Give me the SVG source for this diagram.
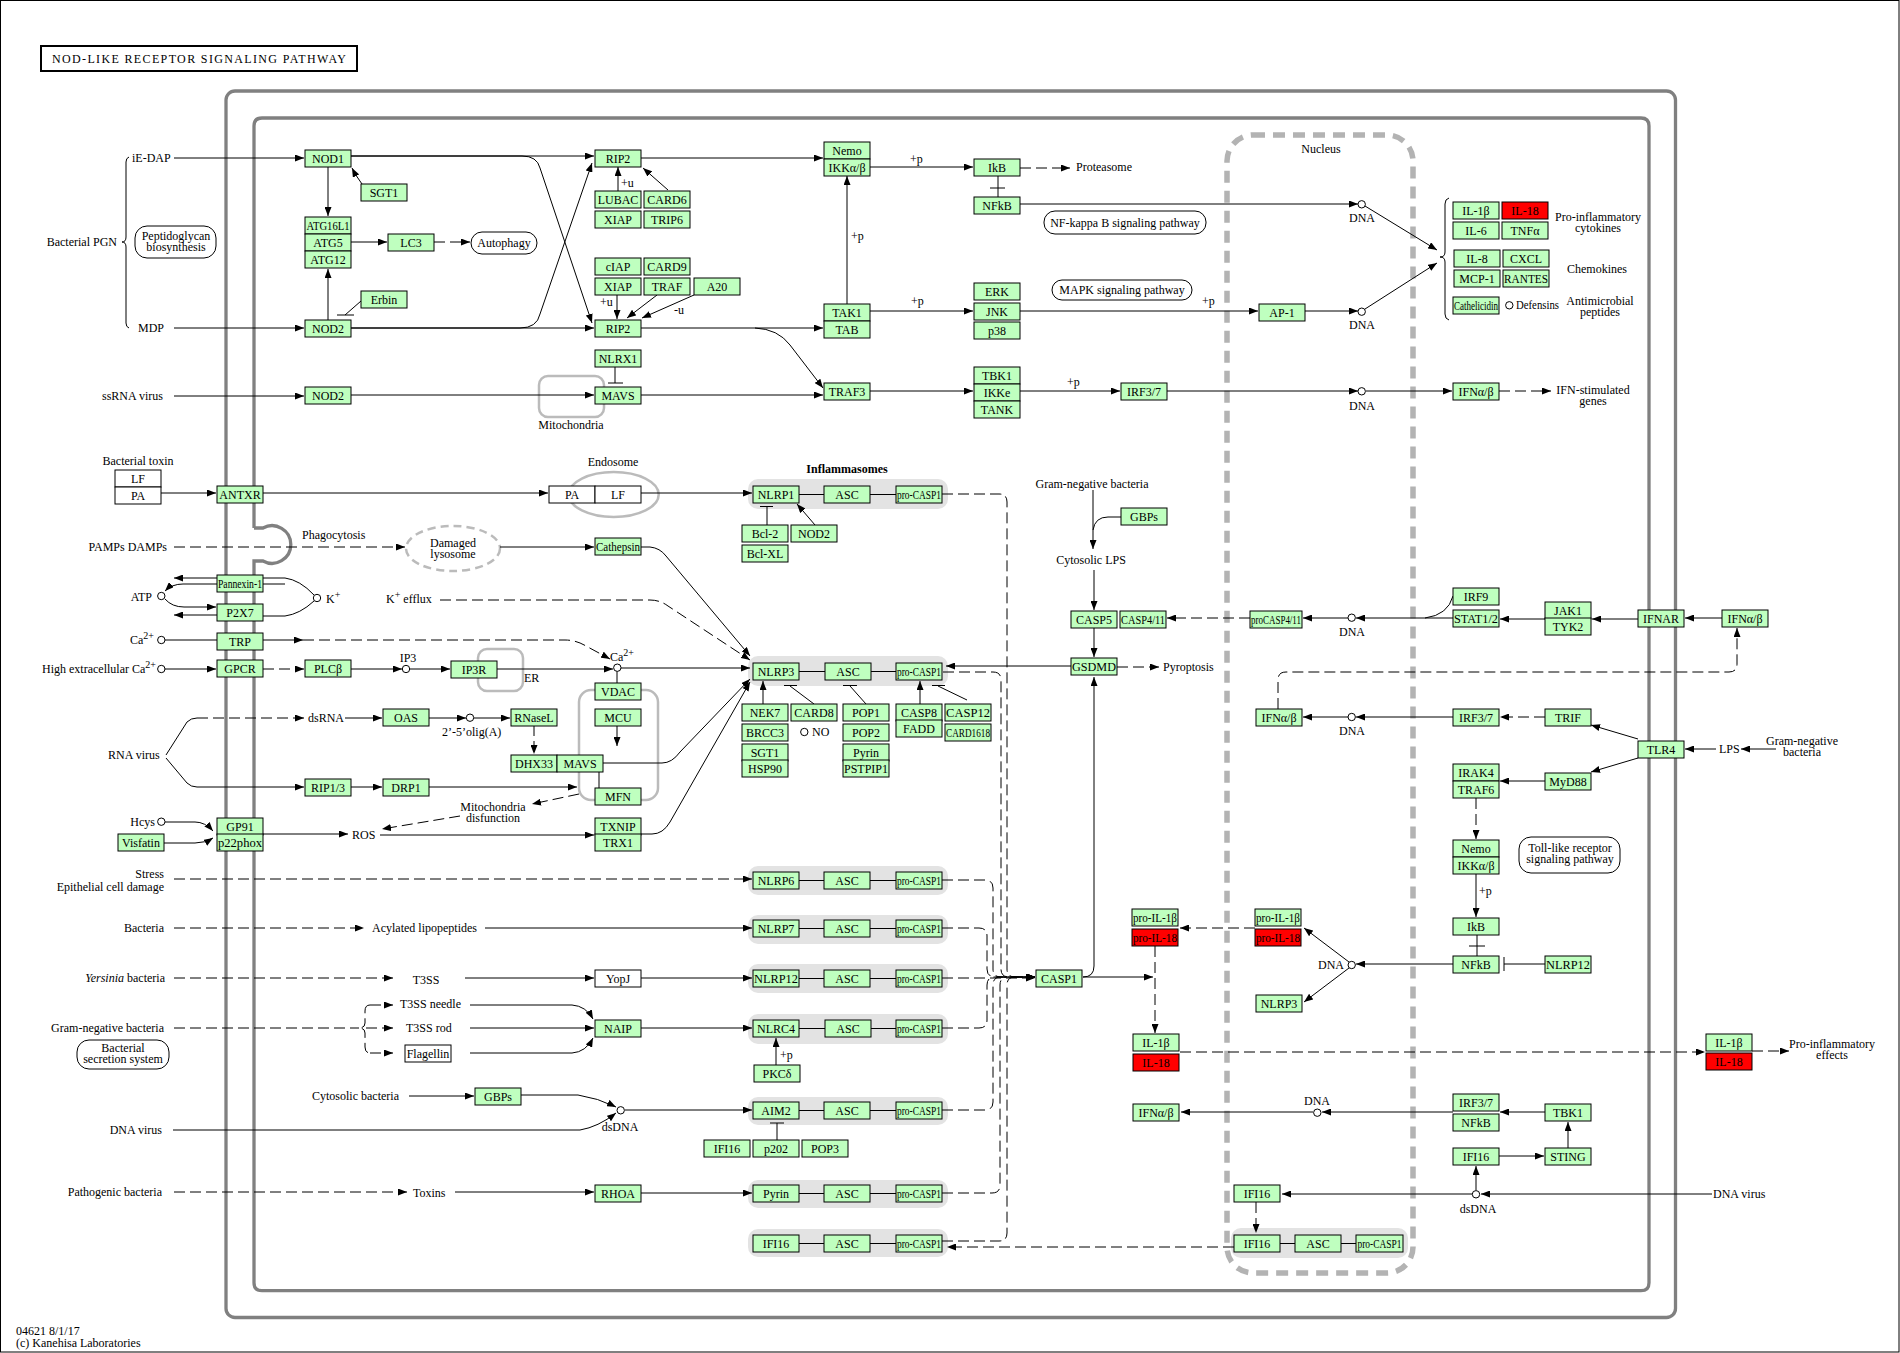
<svg xmlns="http://www.w3.org/2000/svg" width="1900" height="1353" viewBox="0 0 1900 1353">
<style>
text{font-family:"Liberation Serif","Times New Roman",serif;font-size:12px;fill:#000}
.n rect{fill:#bfffbf;stroke:#000;stroke-width:1}
.n text{text-anchor:middle}
.w rect{fill:#fff}
.r rect{fill:#ff0000}
.m{text-anchor:middle}
.s{text-anchor:start}
.en{text-anchor:end}
#edges path{fill:none;stroke:#000;stroke-width:1}
#edges .ar{marker-end:url(#a)}
#edges .d{stroke-dasharray:11 5}
.mem{fill:none;stroke:#808080;stroke-width:3.3}
.cmp{fill:none;stroke:#bbbbbb;stroke-width:2.5}
.bg{fill:#e3e3e3;stroke:none}
.pw{fill:#fff;stroke:#000;stroke-width:1}
.c{fill:#fff;stroke:#000;stroke-width:1}
</style>
<defs>
<marker id="a" markerWidth="9" markerHeight="7" refX="9" refY="3.5" orient="auto" markerUnits="userSpaceOnUse"><path d="M0,0L9,3.5L0,7z" fill="#000"/></marker>
</defs>
<rect x="0.5" y="0.5" width="1898.5" height="1351.5" fill="#fff" stroke="#000" stroke-width="1"/>
<g id="title"><rect x="41" y="46" width="316" height="25" fill="#fff" stroke="#000" stroke-width="2"/><text x="52" y="63" font-size="12.5" textLength="294" lengthAdjust="spacing">NOD-LIKE  RECEPTOR  SIGNALING  PATHWAY</text></g>

<g id="membranes">
<rect class="mem" x="226" y="91" width="1449.5" height="1226.5" rx="9"/>
<path class="mem" d="M254,528 V126 Q254,118 262,118 H1641 Q1649,118 1649,126 V1282.7 Q1649,1290.7 1641,1290.7 H262 Q254,1290.7 254,1282.7 V561 H263 A18.8,18.8 0 1 0 263,528 H254"/>
<rect x="1227" y="135" width="186" height="1138" rx="26" fill="none" stroke="#b3b3b3" stroke-width="5.5" stroke-dasharray="12 8"/>
<rect class="cmp" x="539" y="376" width="65" height="41" rx="9"/>
<rect class="cmp" x="478" y="649" width="45" height="42" rx="9"/>
<rect class="cmp" x="579" y="690" width="79" height="110" rx="12"/>
<ellipse class="cmp" cx="613.7" cy="494.5" rx="45" ry="22.5"/>
<ellipse class="cmp" cx="453" cy="548.5" rx="47" ry="22.5" stroke-dasharray="8 5"/>
<rect class="bg" x="748" y="479" width="200" height="30" rx="10"/>
<rect class="bg" x="748" y="656" width="200" height="30" rx="10"/>
<rect class="bg" x="748" y="866" width="200" height="29" rx="10"/>
<rect class="bg" x="748" y="915" width="200" height="29" rx="10"/>
<rect class="bg" x="748" y="964" width="200" height="29" rx="10"/>
<rect class="bg" x="748" y="1014" width="200" height="30" rx="10"/>
<rect class="bg" x="748" y="1097" width="200" height="28" rx="10"/>
<rect class="bg" x="748" y="1180" width="200" height="28" rx="10"/>
<rect class="bg" x="748" y="1229" width="200" height="28" rx="10"/>
<rect class="bg" x="1231" y="1228" width="177" height="30" rx="10"/>
</g>

<g id="edges">
<path class="ar" d="M174,158 H304"/>
<path class="ar" d="M174,328 H304"/>
<path class="ar" d="M174,396 H304"/>
<path class="ar" d="M328,167 V216"/>
<path class="ar" d="M328,320 V269"/>
<path class="ar" d="M362,184 Q356,176 352,168"/>
<path d="M361,301 L345,315 M337,315 H354"/>
<path class="ar" d="M351,242 H387"/>
<path class="ar d" d="M434,242 H470"/>
<path class="ar" d="M351,156 H594"/>
<path class="ar" d="M351,156 H522 Q537,156 540,168 L592,323"/>
<path class="ar" d="M351,328 H594"/>
<path class="ar" d="M351,328 H520 Q537,328 540,314 L592,163"/>
<path class="ar" d="M618,191 V167"/>
<path class="ar" d="M668,190 L643,168"/>
<path class="ar" d="M617,295 V319"/>
<path class="ar" d="M657,295 L627,318"/>
<path class="ar" d="M694,295 L642,318"/>
<path class="ar" d="M641,158 H823"/>
<path class="ar" d="M641,328 H823"/>
<path class="ar" d="M755,328 Q778,329 790,345 L823,388"/>
<path d="M615,367 V383 M608,383 H623"/>
<path class="ar" d="M351,395 H594"/>
<path class="ar" d="M641,395 H823"/>
<path class="ar" d="M847,304 V176"/>
<path class="ar" d="M870,167 H973"/>
<path class="ar d" d="M1020,168 H1070"/>
<path d="M998,176 V197 M990,188 H1005"/>
<path class="ar" d="M1020,204 H1358"/>
<path class="ar" d="M1365,206 L1437,250"/>
<path class="ar" d="M870,311 H973"/>
<path class="ar" d="M1020,311 H1258"/>
<path class="ar" d="M1305,311 H1358"/>
<path class="ar" d="M1365,309 L1437,263"/>
<path class="ar" d="M870,391 H973"/>
<path class="ar" d="M1020,391 H1120"/>
<path class="ar" d="M1167,391 H1358"/>
<path class="ar" d="M1366,391 H1452"/>
<path class="ar d" d="M1499,391 H1551"/>

<path class="ar" d="M161,493 H216"/>
<path class="ar" d="M263,493 H548"/>
<path class="ar" d="M641,493 H752"/>
<path class="ar d" d="M174,547 H405"/>
<path class="ar" d="M500,547 H594"/>
<path class="ar" d="M641,547 H650 Q660,548 666,556 L750,656"/>
<path class="ar d" d="M440,600 H650 Q660,600 668,606 L750,660"/>
<path d="M165,640 H217"/>
<path class="ar" d="M263,640 H303"/>
<path class="ar d" d="M303,640 H565 Q576,640 586,646 L610,659"/>
<path class="ar" d="M165,669 H216"/>
<path class="ar d" d="M263,669 H304"/>
<path class="ar" d="M351,669 H402"/>
<path class="ar" d="M410,669 H450"/>
<path class="ar" d="M497,669 H613"/>
<path class="ar" d="M621,668 H750"/>
<path d="M617,671 V683"/>
<path class="ar" d="M617,725 V746"/>
<path class="ar" d="M217,578 H174"/>
<path class="ar" d="M217,584 H183 Q172,584 165,591"/>
<path class="ar" d="M165,599 Q172,607 184,607 H216"/>
<path class="ar" d="M217,615 H174"/>
<path d="M263,578 H285 Q300,580 314,595 M263,584 H285 M263,616 H285 Q300,614 314,601"/>
<path d="M166,755 L187,722 Q191,718 197,718"/>
<path class="ar d" d="M197,718 H304"/>
<path class="ar" d="M166,758 L187,783 Q191,787 197,787 H304"/>
<path class="ar" d="M345,718 H382"/>
<path class="ar" d="M429,718 H466"/>
<path class="ar" d="M474,718 H510"/>
<path class="ar d" d="M534,725 V754"/>
<path class="ar" d="M351,787 H382"/>
<path class="ar" d="M429,787 H577"/>
<path class="ar" d="M603,763 H662 Q672,763 680,752 L750,679"/>
<path d="M599,772 V788"/>
<path class="ar d" d="M579,794 L532,804"/>
<path class="ar d" d="M460,816 L382,829"/>
<path class="ar" d="M165,822 H195 Q205,822 213,831"/>
<path class="ar" d="M164,843 H195 Q205,843 213,838"/>
<path class="ar" d="M263,834 H348"/>
<path class="ar" d="M380,835 H594"/>
<path class="ar" d="M641,834 H652 Q663,834 670,822 L750,682"/>
<path class="ar d" d="M174,879 H752"/>

<path class="ar d" d="M174,928 H364"/>
<path class="ar" d="M485,928 H752"/>
<path class="ar d" d="M174,978 H393"/>
<path class="ar" d="M465,978 H594"/>
<path class="ar" d="M641,978 H752"/>
<path class="d" d="M174,1028 H359"/>
<path class="d" d="M370,1005 Q365,1005 365,1011 V1023 Q365,1028 359,1028 Q365,1028 365,1033 V1047 Q365,1053 370,1053"/>
<path class="ar d" d="M370,1005 H393"/>
<path class="ar d" d="M366,1028 H393"/>
<path class="ar d" d="M370,1053 H393"/>
<path class="ar" d="M470,1005 H572 Q586,1006 593,1019"/>
<path class="ar" d="M470,1028 H594"/>
<path class="ar" d="M470,1053 H572 Q586,1052 593,1038"/>
<path class="ar" d="M641,1028 H752"/>
<path class="ar" d="M776,1065 V1038"/>
<path class="ar" d="M409,1096 H474"/>
<path class="ar" d="M521,1095 H578 Q598,1098 616,1107"/>
<path class="ar" d="M173,1130 H580 Q598,1127 616,1113"/>
<path class="ar" d="M625,1110 H752"/>
<path d="M777,1140 V1123 M770,1123 H784"/>
<path class="ar d" d="M174,1192 H407"/>
<path class="ar" d="M455,1192 H594"/>
<path class="ar" d="M641,1193 H752"/>

<path d="M799,494.5 H824 M870,494.5 H896"/>
<path d="M799,671.5 H825 M871,671.5 H896"/>
<path d="M799,880.5 H824 M870,880.5 H896"/>
<path d="M799,928.5 H824 M870,928.5 H896"/>
<path d="M799,978.5 H824 M870,978.5 H896"/>
<path d="M799,1028.5 H825 M871,1028.5 H896"/>
<path d="M799,1110.5 H824 M870,1110.5 H896"/>
<path d="M799,1193.5 H824 M870,1193.5 H896"/>
<path d="M799,1243.5 H824 M870,1243.5 H896"/>
<path d="M1280,1243.5 H1295 M1341,1243.5 H1356"/>

<path d="M767,525 V507 M760,506.5 H773"/>
<path class="ar" d="M815,525 L797,504"/>
<path class="ar" d="M763,704 V681"/>
<path d="M814,704 L790,686 M784,685.5 H797"/>
<path d="M866,704 L850,686 M843,685.5 H857"/>
<path class="ar" d="M920,704 V681"/>
<path d="M967,700 L938,686 M932,685.5 H945"/>
<path class="ar" d="M1071,666 H946"/>

<path class="ar d" d="M942,494 H999 Q1007,494 1007,502 V969 Q1007,977 1015,977 H1035"/>
<path class="ar d" d="M943,672 H993 Q1001,672 1001,680 V969 Q1001,977 1009,977 H1035"/>
<path class="ar d" d="M942,880 H985 Q993,880 993,888 V969 Q993,977 1001,977 H1035"/>
<path class="ar d" d="M942,928 H979 Q987,928 987,936 V969 Q987,977 995,977 H1035"/>
<path class="ar d" d="M942,978 H1035"/>
<path class="ar d" d="M942,1028 H979 Q987,1028 987,1020 V985 Q987,977 995,977 H1035"/>
<path class="ar d" d="M942,1110 H985 Q993,1110 993,1102 V985 Q993,977 1001,977 H1035"/>
<path class="ar d" d="M942,1193 H992 Q1000,1193 1000,1185 V985 Q1000,977 1008,977 H1035"/>
<path class="ar d" d="M942,1241 H999 Q1007,1241 1007,1233 V985 Q1007,977 1015,977 H1035"/>

<path class="ar" d="M1093,490 V549"/>
<path d="M1121,517 H1108 Q1095,517 1093,530"/>
<path class="ar" d="M1094,570 V610"/>
<path class="ar" d="M1094,627 V657"/>
<path class="ar d" d="M1117,667 H1159"/>
<path class="ar d" d="M1250,618 H1167"/>
<path class="ar" d="M1348,618 H1303"/>
<path class="ar" d="M1453,618 H1356"/>
<path d="M1453,596 Q1448,615 1425,618"/>
<path class="ar" d="M1545,619 H1500"/>
<path class="ar" d="M1638,619 H1592"/>
<path class="ar" d="M1722,618 H1685"/>
<path class="ar d" d="M1278,709 V680 Q1278,672 1286,672 H1729 Q1737,672 1737,664 V628"/>
<path class="ar" d="M1348,717 H1303"/>
<path class="ar" d="M1453,717 H1356"/>
<path class="ar d" d="M1545,717 H1500"/>
<path class="ar" d="M1638,739 L1591,725"/>
<path class="ar" d="M1638,758 L1591,772"/>
<path class="ar" d="M1716,749 H1685"/>
<path class="ar" d="M1776,749 H1741"/>
<path class="ar" d="M1545,781 H1500"/>
<path class="ar d" d="M1476,798 V839"/>
<path class="ar" d="M1476,874 V917"/>
<path d="M1477,935 V956 M1469,946 H1485"/>
<path d="M1545,964 H1504 M1504,957 V971"/>
<path class="ar" d="M1453,964 H1356"/>
<path class="ar" d="M1349,962 L1304,928"/>
<path class="ar" d="M1349,968 L1304,1002"/>
<path class="ar d" d="M1255,928 H1180"/>
<path class="ar d" d="M1155,946 V1033"/>
<path class="ar" d="M1083,977 H1153"/>
<path class="ar" d="M1083,977 Q1094,977 1094,966 V677"/>
<path class="ar d" d="M1180,1052 H1705"/>
<path class="ar d" d="M1752,1051 H1789"/>
<path class="ar" d="M1313,1112 H1181"/>
<path class="ar" d="M1453,1112 H1322"/>
<path class="ar" d="M1545,1112 H1500"/>
<path class="ar" d="M1499,1156 H1544"/>
<path class="ar" d="M1568,1148 V1122"/>
<path class="ar" d="M1712,1194 H1481"/>
<path class="ar" d="M1476,1190 V1166"/>
<path class="ar" d="M1472,1194 H1282"/>
<path class="ar d" d="M1256,1202 V1233"/>
<path class="ar d" d="M1234,1247 H947"/>
<path d="M129,157 Q126,158 126,162 V237 Q126,242 122,242 Q126,242 126,247 V323 Q126,327 129,328"/>
<path d="M1449,198 Q1445,199 1445,204 V252 Q1445,257 1440,257 Q1445,257 1445,262 V314 Q1445,319 1449,320"/>
</g>

<g id="points">
<circle class="c" cx="1361.7" cy="204.3" r="3.7"/>
<circle class="c" cx="1361.7" cy="311.7" r="3.7"/>
<circle class="c" cx="1361.7" cy="391.3" r="3.7"/>
<circle class="c" cx="1509.3" cy="305.3" r="3.7"/>
<circle class="c" cx="161.3" cy="596" r="3.7"/>
<circle class="c" cx="317" cy="598" r="3.7"/>
<circle class="c" cx="161.3" cy="640" r="3.7"/>
<circle class="c" cx="161.3" cy="669" r="3.7"/>
<circle class="c" cx="406" cy="669" r="3.7"/>
<circle class="c" cx="617.3" cy="667.7" r="3.7"/>
<circle class="c" cx="470" cy="717.7" r="3.7"/>
<circle class="c" cx="804.3" cy="732" r="3.7"/>
<circle class="c" cx="161.3" cy="821.7" r="3.7"/>
<circle class="c" cx="620.7" cy="1110.3" r="3.7"/>
<circle class="c" cx="1351.7" cy="617.7" r="3.7"/>
<circle class="c" cx="1351.7" cy="717" r="3.7"/>
<circle class="c" cx="1351.7" cy="965" r="3.7"/>
<circle class="c" cx="1317.3" cy="1112.7" r="3.7"/>
<circle class="c" cx="1476" cy="1194.3" r="3.7"/>
</g>

<g id="pathways">
<rect class="pw" x="135" y="226" width="81" height="32" rx="12"/>
<rect class="pw" x="471" y="232" width="66" height="22" rx="11"/>
<rect class="pw" x="1044" y="211" width="162" height="23" rx="11"/>
<rect class="pw" x="1052" y="280" width="140" height="20" rx="10"/>
<rect class="pw" x="1519" y="837" width="101" height="36" rx="12"/>
<rect class="pw" x="77" y="1040" width="92" height="29" rx="12"/>
</g>

<g id="nodes">
<g id="NOD1" class="n"><rect x="305" y="150" width="46" height="17"/><text x="328" y="163">NOD1</text></g>
<g id="SGT1a" class="n"><rect x="361" y="184" width="46" height="17"/><text x="384" y="197">SGT1</text></g>
<g id="ATG16L1" class="n"><rect x="305" y="217" width="46" height="17"/><text x="328" y="230" textLength="43" lengthAdjust="spacingAndGlyphs">ATG16L1</text></g>
<g id="ATG5" class="n"><rect x="305" y="234" width="46" height="17"/><text x="328" y="247">ATG5</text></g>
<g id="ATG12" class="n"><rect x="305" y="251" width="46" height="17"/><text x="328" y="264">ATG12</text></g>
<g id="LC3" class="n"><rect x="388" y="234" width="46" height="17"/><text x="411" y="247">LC3</text></g>
<g id="Erbin" class="n"><rect x="361" y="291" width="46" height="17"/><text x="384" y="304">Erbin</text></g>
<g id="NOD2a" class="n"><rect x="305" y="320" width="46" height="17"/><text x="328" y="333">NOD2</text></g>
<g id="NOD2b" class="n"><rect x="305" y="387" width="46" height="17"/><text x="328" y="400">NOD2</text></g>
<g id="RIP2a" class="n"><rect x="595" y="150" width="46" height="17"/><text x="618" y="163">RIP2</text></g>
<g id="LUBAC" class="n"><rect x="595" y="191" width="46" height="17"/><text x="618" y="204">LUBAC</text></g>
<g id="CARD6" class="n"><rect x="644" y="191" width="46" height="17"/><text x="667" y="204">CARD6</text></g>
<g id="XIAPa" class="n"><rect x="595" y="211" width="46" height="17"/><text x="618" y="224">XIAP</text></g>
<g id="TRIP6" class="n"><rect x="644" y="211" width="46" height="17"/><text x="667" y="224">TRIP6</text></g>
<g id="cIAP" class="n"><rect x="595" y="258" width="46" height="17"/><text x="618" y="271">cIAP</text></g>
<g id="CARD9" class="n"><rect x="644" y="258" width="46" height="17"/><text x="667" y="271">CARD9</text></g>
<g id="XIAPb" class="n"><rect x="595" y="278" width="46" height="17"/><text x="618" y="291">XIAP</text></g>
<g id="TRAF" class="n"><rect x="644" y="278" width="46" height="17"/><text x="667" y="291">TRAF</text></g>
<g id="A20" class="n"><rect x="694" y="278" width="46" height="17"/><text x="717" y="291">A20</text></g>
<g id="RIP2b" class="n"><rect x="595" y="320" width="46" height="17"/><text x="618" y="333">RIP2</text></g>
<g id="NLRX1" class="n"><rect x="595" y="350" width="46" height="17"/><text x="618" y="363">NLRX1</text></g>
<g id="MAVSa" class="n"><rect x="595" y="387" width="46" height="17"/><text x="618" y="400">MAVS</text></g>
<g id="NemoA" class="n"><rect x="824" y="142" width="46" height="17"/><text x="847" y="155">Nemo</text></g>
<g id="IKKa" class="n"><rect x="824" y="159" width="46" height="17"/><text x="847" y="172">IKKα/β</text></g>
<g id="TAK1" class="n"><rect x="824" y="304" width="46" height="17"/><text x="847" y="317">TAK1</text></g>
<g id="TAB" class="n"><rect x="824" y="321" width="46" height="17"/><text x="847" y="334">TAB</text></g>
<g id="TRAF3" class="n"><rect x="824" y="383" width="46" height="17"/><text x="847" y="396">TRAF3</text></g>
<g id="IkBa" class="n"><rect x="974" y="159" width="46" height="17"/><text x="997" y="172">IkB</text></g>
<g id="NFkBa" class="n"><rect x="974" y="197" width="46" height="17"/><text x="997" y="210">NFkB</text></g>
<g id="ERK" class="n"><rect x="974" y="283" width="46" height="17"/><text x="997" y="296">ERK</text></g>
<g id="JNK" class="n"><rect x="974" y="303" width="46" height="17"/><text x="997" y="316">JNK</text></g>
<g id="p38" class="n"><rect x="974" y="322" width="46" height="17"/><text x="997" y="335">p38</text></g>
<g id="TBK1a" class="n"><rect x="974" y="367" width="46" height="17"/><text x="997" y="380">TBK1</text></g>
<g id="IKKe" class="n"><rect x="974" y="384" width="46" height="17"/><text x="997" y="397">IKKe</text></g>
<g id="TANK" class="n"><rect x="974" y="401" width="46" height="17"/><text x="997" y="414">TANK</text></g>
<g id="IRF37a" class="n"><rect x="1121" y="383" width="46" height="17"/><text x="1144" y="396">IRF3/7</text></g>
<g id="AP1" class="n"><rect x="1259" y="304" width="46" height="17"/><text x="1282" y="317">AP-1</text></g>
<g id="IFNab1" class="n"><rect x="1453" y="383" width="46" height="17"/><text x="1476" y="396">IFNα/β</text></g>
<g id="IL1b1" class="n"><rect x="1453" y="202" width="46" height="17"/><text x="1476" y="215">IL-1β</text></g>
<g id="IL18a" class="n r"><rect x="1502" y="202" width="46" height="17"/><text x="1525" y="215">IL-18</text></g>
<g id="IL6" class="n"><rect x="1453" y="222" width="46" height="17"/><text x="1476" y="235">IL-6</text></g>
<g id="TNFa" class="n"><rect x="1502" y="222" width="46" height="17"/><text x="1525" y="235">TNFα</text></g>
<g id="IL8" class="n"><rect x="1454" y="250" width="46" height="17"/><text x="1477" y="263">IL-8</text></g>
<g id="CXCL" class="n"><rect x="1503" y="250" width="46" height="17"/><text x="1526" y="263">CXCL</text></g>
<g id="MCP1" class="n"><rect x="1454" y="270" width="46" height="17"/><text x="1477" y="283">MCP-1</text></g>
<g id="RANTES" class="n"><rect x="1503" y="270" width="46" height="17"/><text x="1526" y="283" textLength="44" lengthAdjust="spacingAndGlyphs">RANTES</text></g>
<g id="Cathelicidin" class="n"><rect x="1453" y="297" width="46" height="17"/><text x="1476" y="310" textLength="44" lengthAdjust="spacingAndGlyphs">Cathelicidin</text></g>

<g id="LF1" class="n w"><rect x="115" y="470" width="46" height="17"/><text x="138" y="483">LF</text></g>
<g id="PA1" class="n w"><rect x="115" y="487" width="46" height="17"/><text x="138" y="500">PA</text></g>
<g id="ANTXR" class="n"><rect x="217" y="486" width="46" height="17"/><text x="240" y="499">ANTXR</text></g>
<g id="PA2" class="n w"><rect x="549" y="486" width="46" height="17"/><text x="572" y="499">PA</text></g>
<g id="LF2" class="n w"><rect x="595" y="486" width="46" height="17"/><text x="618" y="499">LF</text></g>
<g id="Cathepsin" class="n"><rect x="595" y="538" width="46" height="17"/><text x="618" y="551" textLength="44" lengthAdjust="spacingAndGlyphs">Cathepsin</text></g>
<g id="Pannexin1" class="n"><rect x="217" y="575" width="46" height="17"/><text x="240" y="588" textLength="44" lengthAdjust="spacingAndGlyphs">Pannexin-1</text></g>
<g id="P2X7" class="n"><rect x="217" y="604" width="46" height="17"/><text x="240" y="617">P2X7</text></g>
<g id="TRP" class="n"><rect x="217" y="633" width="46" height="17"/><text x="240" y="646">TRP</text></g>
<g id="GPCR" class="n"><rect x="217" y="660" width="46" height="17"/><text x="240" y="673">GPCR</text></g>
<g id="PLCb" class="n"><rect x="305" y="660" width="46" height="17"/><text x="328" y="673">PLCβ</text></g>
<g id="IP3R" class="n"><rect x="451" y="661" width="46" height="17"/><text x="474" y="674">IP3R</text></g>
<g id="VDAC" class="n"><rect x="595" y="683" width="46" height="17"/><text x="618" y="696">VDAC</text></g>
<g id="MCU" class="n"><rect x="595" y="709" width="46" height="17"/><text x="618" y="722">MCU</text></g>
<g id="OAS" class="n"><rect x="383" y="709" width="46" height="17"/><text x="406" y="722">OAS</text></g>
<g id="RNaseL" class="n"><rect x="511" y="709" width="46" height="17"/><text x="534" y="722">RNaseL</text></g>
<g id="DHX33" class="n"><rect x="511" y="755" width="46" height="17"/><text x="534" y="768">DHX33</text></g>
<g id="MAVSb" class="n"><rect x="557" y="755" width="46" height="17"/><text x="580" y="768">MAVS</text></g>
<g id="MFN" class="n"><rect x="595" y="788" width="46" height="17"/><text x="618" y="801">MFN</text></g>
<g id="RIP13" class="n"><rect x="305" y="779" width="46" height="17"/><text x="328" y="792">RIP1/3</text></g>
<g id="DRP1" class="n"><rect x="383" y="779" width="46" height="17"/><text x="406" y="792">DRP1</text></g>
<g id="Visfatin" class="n"><rect x="118" y="834" width="46" height="17"/><text x="141" y="847">Visfatin</text></g>
<g id="GP91" class="n"><rect x="217" y="818" width="46" height="17"/><text x="240" y="831">GP91</text></g>
<g id="p22phox" class="n"><rect x="217" y="834" width="46" height="17"/><text x="240" y="847" textLength="44" lengthAdjust="spacingAndGlyphs">p22phox</text></g>
<g id="TXNIP" class="n"><rect x="595" y="818" width="46" height="17"/><text x="618" y="831">TXNIP</text></g>
<g id="TRX1" class="n"><rect x="595" y="834" width="46" height="17"/><text x="618" y="847">TRX1</text></g>

<g id="NLRP1" class="n"><rect x="753" y="486" width="46" height="17"/><text x="776" y="499">NLRP1</text></g>
<g id="ASC1" class="n"><rect x="824" y="486" width="46" height="17"/><text x="847" y="499">ASC</text></g>
<g id="proCASP1a" class="n"><rect x="896" y="486" width="46" height="17"/><text x="919" y="499" textLength="44" lengthAdjust="spacingAndGlyphs">pro-CASP1</text></g>
<g id="Bcl2" class="n"><rect x="742" y="525" width="46" height="17"/><text x="765" y="538">Bcl-2</text></g>
<g id="BclXL" class="n"><rect x="742" y="545" width="46" height="17"/><text x="765" y="558">Bcl-XL</text></g>
<g id="NOD2c" class="n"><rect x="791" y="525" width="46" height="17"/><text x="814" y="538">NOD2</text></g>
<g id="NLRP3" class="n"><rect x="753" y="663" width="46" height="17"/><text x="776" y="676">NLRP3</text></g>
<g id="ASC3" class="n"><rect x="825" y="663" width="46" height="17"/><text x="848" y="676">ASC</text></g>
<g id="proCASP1b" class="n"><rect x="896" y="663" width="46" height="17"/><text x="919" y="676" textLength="44" lengthAdjust="spacingAndGlyphs">pro-CASP1</text></g>
<g id="NEK7" class="n"><rect x="742" y="704" width="46" height="17"/><text x="765" y="717">NEK7</text></g>
<g id="BRCC3" class="n"><rect x="742" y="724" width="46" height="17"/><text x="765" y="737">BRCC3</text></g>
<g id="SGT1b" class="n"><rect x="742" y="744" width="46" height="17"/><text x="765" y="757">SGT1</text></g>
<g id="HSP90" class="n"><rect x="742" y="760" width="46" height="17"/><text x="765" y="773">HSP90</text></g>
<g id="CARD8" class="n"><rect x="791" y="704" width="46" height="17"/><text x="814" y="717">CARD8</text></g>
<g id="POP1" class="n"><rect x="843" y="704" width="46" height="17"/><text x="866" y="717">POP1</text></g>
<g id="POP2" class="n"><rect x="843" y="724" width="46" height="17"/><text x="866" y="737">POP2</text></g>
<g id="PyrinA" class="n"><rect x="843" y="744" width="46" height="17"/><text x="866" y="757">Pyrin</text></g>
<g id="PSTPIP1" class="n"><rect x="843" y="760" width="46" height="17"/><text x="866" y="773">PSTPIP1</text></g>
<g id="CASP8" class="n"><rect x="896" y="704" width="46" height="17"/><text x="919" y="717">CASP8</text></g>
<g id="FADD" class="n"><rect x="896" y="720" width="46" height="17"/><text x="919" y="733">FADD</text></g>
<g id="CASP12" class="n"><rect x="945" y="704" width="46" height="17"/><text x="968" y="717" textLength="44" lengthAdjust="spacingAndGlyphs">CASP12</text></g>
<g id="CARD1618" class="n"><rect x="945" y="724" width="46" height="17"/><text x="968" y="737" textLength="44" lengthAdjust="spacingAndGlyphs">CARD1618</text></g>
<g id="NLRP6" class="n"><rect x="753" y="872" width="46" height="17"/><text x="776" y="885">NLRP6</text></g>
<g id="ASC6" class="n"><rect x="824" y="872" width="46" height="17"/><text x="847" y="885">ASC</text></g>
<g id="proCASP1c" class="n"><rect x="896" y="872" width="46" height="17"/><text x="919" y="885" textLength="44" lengthAdjust="spacingAndGlyphs">pro-CASP1</text></g>
<g id="NLRP7" class="n"><rect x="753" y="920" width="46" height="17"/><text x="776" y="933">NLRP7</text></g>
<g id="ASC7" class="n"><rect x="824" y="920" width="46" height="17"/><text x="847" y="933">ASC</text></g>
<g id="proCASP1d" class="n"><rect x="896" y="920" width="46" height="17"/><text x="919" y="933" textLength="44" lengthAdjust="spacingAndGlyphs">pro-CASP1</text></g>
<g id="YopJ" class="n w"><rect x="595" y="970" width="46" height="17"/><text x="618" y="983">YopJ</text></g>
<g id="NLRP12a" class="n"><rect x="753" y="970" width="46" height="17"/><text x="776" y="983" textLength="44" lengthAdjust="spacingAndGlyphs">NLRP12</text></g>
<g id="ASC12" class="n"><rect x="824" y="970" width="46" height="17"/><text x="847" y="983">ASC</text></g>
<g id="proCASP1e" class="n"><rect x="896" y="970" width="46" height="17"/><text x="919" y="983" textLength="44" lengthAdjust="spacingAndGlyphs">pro-CASP1</text></g>
<g id="Flagellin" class="n w"><rect x="405" y="1045" width="46" height="17"/><text x="428" y="1058">Flagellin</text></g>
<g id="NAIP" class="n"><rect x="595" y="1020" width="46" height="17"/><text x="618" y="1033">NAIP</text></g>
<g id="NLRC4" class="n"><rect x="753" y="1020" width="46" height="17"/><text x="776" y="1033">NLRC4</text></g>
<g id="ASCc4" class="n"><rect x="825" y="1020" width="46" height="17"/><text x="848" y="1033">ASC</text></g>
<g id="proCASP1f" class="n"><rect x="896" y="1020" width="46" height="17"/><text x="919" y="1033" textLength="44" lengthAdjust="spacingAndGlyphs">pro-CASP1</text></g>
<g id="PKCd" class="n"><rect x="754" y="1065" width="46" height="17"/><text x="777" y="1078">PKCδ</text></g>
<g id="GBPsA" class="n"><rect x="475" y="1088" width="46" height="17"/><text x="498" y="1101">GBPs</text></g>
<g id="AIM2" class="n"><rect x="753" y="1102" width="46" height="17"/><text x="776" y="1115">AIM2</text></g>
<g id="ASCa" class="n"><rect x="824" y="1102" width="46" height="17"/><text x="847" y="1115">ASC</text></g>
<g id="proCASP1g" class="n"><rect x="896" y="1102" width="46" height="17"/><text x="919" y="1115" textLength="44" lengthAdjust="spacingAndGlyphs">pro-CASP1</text></g>
<g id="IFI16a" class="n"><rect x="704" y="1140" width="46" height="17"/><text x="727" y="1153">IFI16</text></g>
<g id="p202" class="n"><rect x="753" y="1140" width="46" height="17"/><text x="776" y="1153">p202</text></g>
<g id="POP3" class="n"><rect x="802" y="1140" width="46" height="17"/><text x="825" y="1153">POP3</text></g>
<g id="RHOA" class="n"><rect x="595" y="1185" width="46" height="17"/><text x="618" y="1198">RHOA</text></g>
<g id="PyrinB" class="n"><rect x="753" y="1185" width="46" height="17"/><text x="776" y="1198">Pyrin</text></g>
<g id="ASCp" class="n"><rect x="824" y="1185" width="46" height="17"/><text x="847" y="1198">ASC</text></g>
<g id="proCASP1h" class="n"><rect x="896" y="1185" width="46" height="17"/><text x="919" y="1198" textLength="44" lengthAdjust="spacingAndGlyphs">pro-CASP1</text></g>
<g id="IFI16b" class="n"><rect x="753" y="1235" width="46" height="17"/><text x="776" y="1248">IFI16</text></g>
<g id="ASCi" class="n"><rect x="824" y="1235" width="46" height="17"/><text x="847" y="1248">ASC</text></g>
<g id="proCASP1i" class="n"><rect x="896" y="1235" width="46" height="17"/><text x="919" y="1248" textLength="44" lengthAdjust="spacingAndGlyphs">pro-CASP1</text></g>

<g id="GBPsB" class="n"><rect x="1121" y="508" width="46" height="17"/><text x="1144" y="521">GBPs</text></g>
<g id="CASP5" class="n"><rect x="1071" y="611" width="46" height="17"/><text x="1094" y="624">CASP5</text></g>
<g id="CASP411" class="n"><rect x="1120" y="611" width="46" height="17"/><text x="1143" y="624" textLength="44" lengthAdjust="spacingAndGlyphs">CASP4/11</text></g>
<g id="GSDMD" class="n"><rect x="1071" y="658" width="46" height="17"/><text x="1094" y="671" textLength="44" lengthAdjust="spacingAndGlyphs">GSDMD</text></g>
<g id="proCASP411" class="n"><rect x="1250" y="611" width="52" height="17"/><text x="1276" y="624" textLength="50" lengthAdjust="spacingAndGlyphs">proCASP4/11</text></g>
<g id="IFNab2" class="n"><rect x="1256" y="709" width="46" height="17"/><text x="1279" y="722">IFNα/β</text></g>
<g id="IRF9" class="n"><rect x="1453" y="588" width="46" height="17"/><text x="1476" y="601">IRF9</text></g>
<g id="STAT12" class="n"><rect x="1453" y="610" width="46" height="17"/><text x="1476" y="623" textLength="44" lengthAdjust="spacingAndGlyphs">STAT1/2</text></g>
<g id="JAK1" class="n"><rect x="1545" y="602" width="46" height="17"/><text x="1568" y="615">JAK1</text></g>
<g id="TYK2" class="n"><rect x="1545" y="618" width="46" height="17"/><text x="1568" y="631">TYK2</text></g>
<g id="IFNAR" class="n"><rect x="1638" y="610" width="46" height="17"/><text x="1661" y="623">IFNAR</text></g>
<g id="IFNab3" class="n"><rect x="1722" y="610" width="46" height="17"/><text x="1745" y="623">IFNα/β</text></g>
<g id="IRF37b" class="n"><rect x="1453" y="709" width="46" height="17"/><text x="1476" y="722">IRF3/7</text></g>
<g id="TRIF" class="n"><rect x="1545" y="709" width="46" height="17"/><text x="1568" y="722">TRIF</text></g>
<g id="TLR4" class="n"><rect x="1638" y="741" width="46" height="17"/><text x="1661" y="754">TLR4</text></g>
<g id="MyD88" class="n"><rect x="1545" y="773" width="46" height="17"/><text x="1568" y="786">MyD88</text></g>
<g id="IRAK4" class="n"><rect x="1453" y="764" width="46" height="17"/><text x="1476" y="777">IRAK4</text></g>
<g id="TRAF6" class="n"><rect x="1453" y="781" width="46" height="17"/><text x="1476" y="794">TRAF6</text></g>
<g id="NemoB" class="n"><rect x="1453" y="840" width="46" height="17"/><text x="1476" y="853">Nemo</text></g>
<g id="IKKb" class="n"><rect x="1453" y="857" width="46" height="17"/><text x="1476" y="870">IKKα/β</text></g>
<g id="IkBb" class="n"><rect x="1453" y="918" width="46" height="17"/><text x="1476" y="931">IkB</text></g>
<g id="NFkBb" class="n"><rect x="1453" y="956" width="46" height="17"/><text x="1476" y="969">NFkB</text></g>
<g id="NLRP12b" class="n"><rect x="1545" y="956" width="46" height="17"/><text x="1568" y="969" textLength="44" lengthAdjust="spacingAndGlyphs">NLRP12</text></g>
<g id="proIL1bN" class="n"><rect x="1255" y="909" width="46" height="17"/><text x="1278" y="922" textLength="44" lengthAdjust="spacingAndGlyphs">pro-IL-1β</text></g>
<g id="proIL18N" class="n r"><rect x="1255" y="929" width="46" height="17"/><text x="1278" y="942" textLength="44" lengthAdjust="spacingAndGlyphs">pro-IL-18</text></g>
<g id="NLRP3N" class="n"><rect x="1256" y="995" width="46" height="17"/><text x="1279" y="1008">NLRP3</text></g>
<g id="proIL1bC" class="n"><rect x="1132" y="909" width="46" height="17"/><text x="1155" y="922" textLength="44" lengthAdjust="spacingAndGlyphs">pro-IL-1β</text></g>
<g id="proIL18C" class="n r"><rect x="1132" y="929" width="46" height="17"/><text x="1155" y="942" textLength="44" lengthAdjust="spacingAndGlyphs">pro-IL-18</text></g>
<g id="CASP1" class="n"><rect x="1036" y="970" width="46" height="17"/><text x="1059" y="983">CASP1</text></g>
<g id="IL1bC" class="n"><rect x="1133" y="1034" width="46" height="17"/><text x="1156" y="1047">IL-1β</text></g>
<g id="IL18C" class="n r"><rect x="1133" y="1054" width="46" height="17"/><text x="1156" y="1067">IL-18</text></g>
<g id="IL1bO" class="n"><rect x="1706" y="1034" width="46" height="17"/><text x="1729" y="1047">IL-1β</text></g>
<g id="IL18O" class="n r"><rect x="1706" y="1053" width="46" height="17"/><text x="1729" y="1066">IL-18</text></g>
<g id="IFNab4" class="n"><rect x="1133" y="1104" width="46" height="17"/><text x="1156" y="1117">IFNα/β</text></g>
<g id="IRF37c" class="n"><rect x="1453" y="1094" width="46" height="17"/><text x="1476" y="1107">IRF3/7</text></g>
<g id="NFkBc" class="n"><rect x="1453" y="1114" width="46" height="17"/><text x="1476" y="1127">NFkB</text></g>
<g id="TBK1b" class="n"><rect x="1545" y="1104" width="46" height="17"/><text x="1568" y="1117">TBK1</text></g>
<g id="IFI16c" class="n"><rect x="1453" y="1148" width="46" height="17"/><text x="1476" y="1161">IFI16</text></g>
<g id="STING" class="n"><rect x="1545" y="1148" width="46" height="17"/><text x="1568" y="1161">STING</text></g>
<g id="IFI16d" class="n"><rect x="1234" y="1185" width="46" height="17"/><text x="1257" y="1198">IFI16</text></g>
<g id="IFI16e" class="n"><rect x="1234" y="1235" width="46" height="17"/><text x="1257" y="1248">IFI16</text></g>
<g id="ASCn" class="n"><rect x="1295" y="1235" width="46" height="17"/><text x="1318" y="1248">ASC</text></g>
<g id="proCASP1n" class="n"><rect x="1356" y="1235" width="47" height="17"/><text x="1379.5" y="1248" textLength="44" lengthAdjust="spacingAndGlyphs">pro-CASP1</text></g>
</g>

<g id="labels">
<text x="132" y="162">iE-DAP</text>
<text x="117" y="246" class="en">Bacterial PGN</text>
<text x="138" y="332">MDP</text>
<text x="102" y="400">ssRNA virus</text>
<text x="176" y="240" class="m">Peptidoglycan</text>
<text x="176" y="251" class="m">biosynthesis</text>
<text x="504" y="247" class="m">Autophagy</text>
<text x="571" y="429" class="m">Mitochondria</text>
<text x="621" y="187">+u</text>
<text x="600" y="306">+u</text>
<text x="674" y="314">-u</text>
<text x="851" y="240">+p</text>
<text x="910" y="163">+p</text>
<text x="911" y="305">+p</text>
<text x="1202" y="305">+p</text>
<text x="1067" y="386">+p</text>
<text x="1076" y="171">Proteasome</text>
<text x="1125" y="227" class="m">NF-kappa B signaling pathway</text>
<text x="1122" y="294" class="m">MAPK signaling pathway</text>
<text x="1321" y="153" class="m">Nucleus</text>
<text x="1362" y="222" class="m">DNA</text>
<text x="1362" y="329" class="m">DNA</text>
<text x="1362" y="410" class="m">DNA</text>
<text x="1598" y="221" class="m">Pro-inflammatory</text>
<text x="1598" y="232" class="m">cytokines</text>
<text x="1597" y="273" class="m">Chemokines</text>
<text x="1600" y="305" class="m">Antimicrobial</text>
<text x="1600" y="316" class="m">peptides</text>
<text x="1516" y="309" textLength="43" lengthAdjust="spacingAndGlyphs">Defensins</text>
<text x="1593" y="394" class="m">IFN-stimulated</text>
<text x="1593" y="405" class="m">genes</text>

<text x="138" y="465" class="m">Bacterial toxin</text>
<text x="613" y="466" class="m">Endosome</text>
<text x="847" y="473" class="m" font-weight="bold">Inflammasomes</text>
<text x="167" y="551" class="en">PAMPs DAMPs</text>
<text x="302" y="539">Phagocytosis</text>
<text x="453" y="547" class="m">Damaged</text>
<text x="453" y="558" class="m">lysosome</text>
<text x="152" y="601" class="en">ATP</text>
<text x="326" y="603">K<tspan font-size="10" dy="-5">+</tspan></text>
<text x="386" y="603">K<tspan font-size="10" dy="-5">+</tspan><tspan dy="5"> efflux</tspan></text>
<text x="130" y="644">Ca<tspan font-size="10" dy="-5">2+</tspan></text>
<text x="42" y="673">High extracellular  Ca<tspan font-size="10" dy="-5">2+</tspan></text>
<text x="408" y="662" class="m">IP3</text>
<text x="524" y="682">ER</text>
<text x="610" y="661">Ca<tspan font-size="10" dy="-5">2+</tspan></text>
<text x="308" y="722">dsRNA</text>
<text x="442" y="736">2’-5’olig(A)</text>
<text x="108" y="759">RNA virus</text>
<text x="493" y="811" class="m">Mitochondria</text>
<text x="493" y="822" class="m">disfunction</text>
<text x="812" y="736">NO</text>
<text x="155" y="826" class="en">Hcys</text>
<text x="352" y="839">ROS</text>
<text x="164" y="878" class="en">Stress</text>
<text x="164" y="891" class="en">Epithelial cell damage</text>
<text x="1092" y="488" class="m">Gram-negative bacteria</text>
<text x="1091" y="564" class="m">Cytosolic LPS</text>
<text x="1163" y="671">Pyroptosis</text>
<text x="1352" y="636" class="m">DNA</text>
<text x="1352" y="735" class="m">DNA</text>
<text x="1802" y="745" class="m">Gram-negative</text>
<text x="1802" y="756" class="m">bacteria</text>
<text x="1719" y="753">LPS</text>
<text x="1570" y="852" class="m">Toll-like receptor</text>
<text x="1570" y="863" class="m">signaling pathway</text>
<text x="1479" y="895">+p</text>

<text x="164" y="932" class="en">Bacteria</text>
<text x="372" y="932">Acylated lipopeptides</text>
<text x="165" y="982" class="en"><tspan font-style="italic">Yersinia</tspan> bacteria</text>
<text x="426" y="984" class="m">T3SS</text>
<text x="164" y="1032" class="en">Gram-negative bacteria</text>
<text x="123" y="1052" class="m">Bacterial</text>
<text x="123" y="1063" class="m">secretion system</text>
<text x="400" y="1008">T3SS needle</text>
<text x="406" y="1032">T3SS rod</text>
<text x="780" y="1059">+p</text>
<text x="312" y="1100">Cytosolic bacteria</text>
<text x="162" y="1134" class="en">DNA virus</text>
<text x="620" y="1131" class="m">dsDNA</text>
<text x="162" y="1196" class="en">Pathogenic bacteria</text>
<text x="413" y="1197">Toxins</text>
<text x="1344" y="969" class="en">DNA</text>
<text x="1317" y="1105" class="m">DNA</text>
<text x="1832" y="1048" class="m">Pro-inflammatory</text>
<text x="1832" y="1059" class="m">effects</text>
<text x="1478" y="1213" class="m">dsDNA</text>
<text x="1713" y="1198">DNA virus</text>
<text x="16" y="1335" font-size="11.5">04621 8/1/17</text>
<text x="16" y="1347" font-size="11.5">(c) Kanehisa Laboratories</text>
</g>
</svg>
